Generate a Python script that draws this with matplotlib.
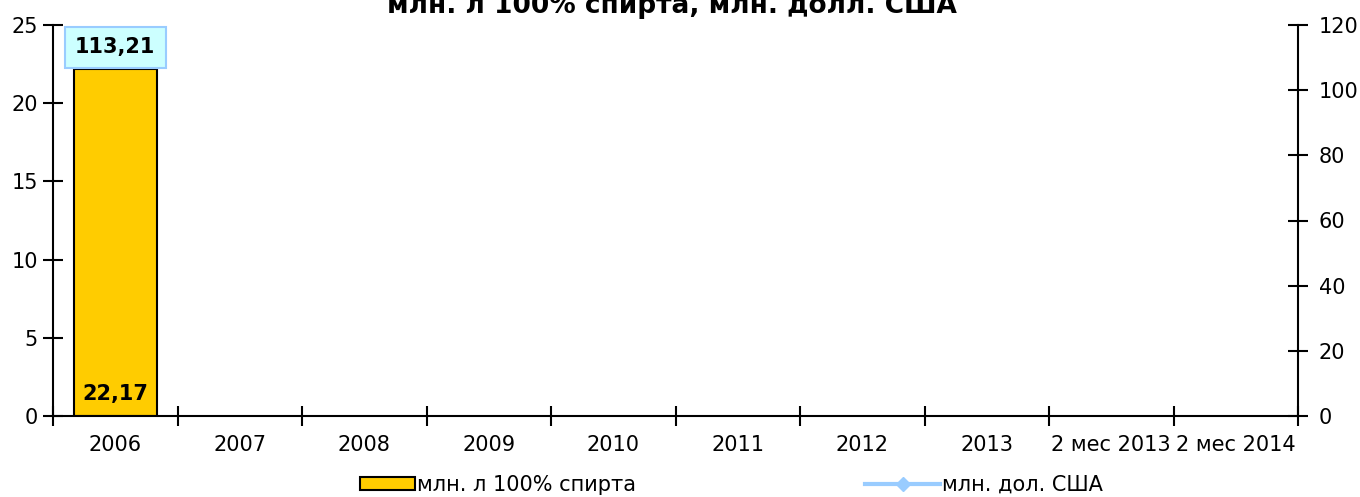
import matplotlib.pyplot as plt
import numpy as np

categories = ["2006", "2007", "2008", "2009", "2010", "2011", "2012", "2013",
              "2 мес 2013", "2 мес 2014"]
volume = [22.17, np.nan, np.nan, np.nan, np.nan, np.nan, np.nan, np.nan, np.nan, np.nan]
usd = [113.21, np.nan, np.nan, np.nan, np.nan, np.nan, np.nan, np.nan, np.nan, np.nan]

plt.rcParams["font.family"] = ["DejaVu Sans"]
plt.rcParams["font.size"] = 15

W, H = 1360, 497
fig = plt.figure(figsize=(W / 100, H / 100), dpi=100)
ax = fig.add_axes([53 / W, 1 - 416 / H, 1245 / W, 391 / H])
ax2 = ax.twinx()

x = np.arange(len(categories))
bars = ax.bar(x, volume, width=0.67, color="#ffcc00", edgecolor="black",
              linewidth=1.5, zorder=2)
line, = ax2.plot(x, usd, color="#99ccff", linewidth=3, marker="D", markersize=7,
                 zorder=3)

ax.set_xlim(-0.5, len(categories) - 0.5)
ax.set_ylim(0, 25)
ax2.set_ylim(0, 120)
ax.set_yticks(range(0, 26, 5))
ax2.set_yticks(range(0, 121, 20))
ax.set_xticks(x)
ax.set_xticklabels(categories)
ax.set_xticks(np.arange(-0.5, len(categories), 1), minor=True)
ax.tick_params(axis="x", which="major", length=0, pad=14)
ax.tick_params(axis="x", which="minor", direction="inout", length=14, width=1.5)
ax.tick_params(axis="y", direction="inout", length=14, width=1.5, pad=4)
ax2.tick_params(axis="y", direction="inout", length=14, width=1.5, pad=8)

for a in (ax, ax2):
    a.spines["top"].set_visible(False)
    for s in ("left", "right", "bottom"):
        a.spines[s].set_linewidth(1.5)
ax.spines["right"].set_visible(False)
ax2.spines["left"].set_visible(False)
ax2.spines["bottom"].set_visible(False)

for xi, v in zip(x, volume):
    if not np.isnan(v):
        ax.text(xi, 0.75, f"{v:.2f}".replace(".", ","), ha="center", va="bottom",
                fontweight="bold", fontsize=15, zorder=4)
for xi, v in zip(x, usd):
    if not np.isnan(v):
        ax2.text(xi, v, f"{v:.2f}".replace(".", ","), ha="center", va="center",
                 fontweight="bold", fontsize=15, zorder=5,
                 bbox=dict(boxstyle="square,pad=0.5", facecolor="#ccffff",
                           edgecolor="#99ccff", linewidth=1.5))

# title is partly cut off at the top in the original as well
fig.text(0.494, 1 - 13 / H, "млн. л 100% спирта, млн. долл. США", ha="center",
         va="baseline", fontweight="bold", fontsize=19)

fig.legend([bars], ["млн. л 100% спирта"], loc="center left",
           bbox_to_anchor=(352 / W, 1 - 485 / H), frameon=False,
           handlelength=2.6, handleheight=0.6, handletextpad=0.1,
           borderaxespad=0, fontsize=15)
fig.legend([line], ["млн. дол. США"], loc="center left",
           bbox_to_anchor=(857 / W, 1 - 485 / H), frameon=False,
           handlelength=3.6, handletextpad=0.1, borderaxespad=0,
           fontsize=15)

fig.savefig("out.png", dpi=100)
